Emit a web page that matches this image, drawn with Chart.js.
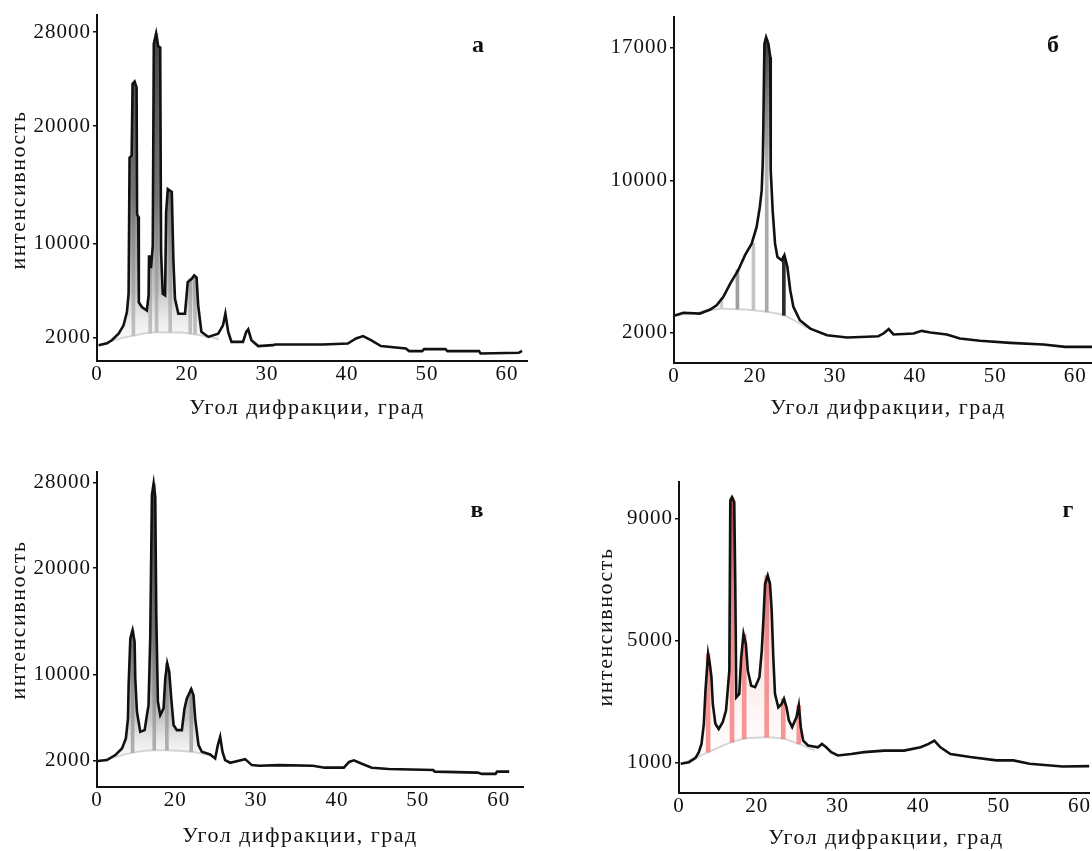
<!DOCTYPE html>
<html lang="ru">
<head>
<meta charset="utf-8">
<title>Дифрактограммы</title>
<script src="https://cdn.jsdelivr.net/npm/chart.js@4.4.1/dist/chart.umd.min.js"></script>
<style>
  html, body { margin: 0; padding: 0; background: #fff; }
  #wrap { position: relative; width: 1092px; height: 851px; overflow: hidden; }
  canvas { position: absolute; }
</style>
</head>
<body>
<div id="wrap">
  <canvas id="panelA" width="546" height="430" style="left:0;top:0"></canvas>
  <canvas id="panelB" width="546" height="430" style="left:546px;top:0"></canvas>
  <canvas id="panelC" width="546" height="421" style="left:0;top:430px"></canvas>
  <canvas id="panelD" width="546" height="421" style="left:546px;top:430px"></canvas>
</div>
<script>
// x tick labels are the same on all four panels
const xTickLabels = ['0', '20', '30', '40', '50', '60'];

// panel а
const aAngle = [8.96, 10.0, 10.6, 11.45, 12.07, 12.49, 12.7, 12.82, 13.08, 13.2, 13.45, 13.7, 13.76, 13.9, 13.98, 14.36, 14.98, 15.2, 15.25, 15.39, 15.5, 15.72, 15.85, 16.14, 16.4, 16.65, 16.76, 16.97, 17.26, 17.39, 17.6, 18.1, 18.3, 18.5, 18.92, 19.75, 20.09, 20.58, 20.9, 21.2, 21.4, 21.8, 22.66, 23.9, 24.5, 24.8, 25.15, 25.56, 27.0, 27.4, 27.65, 28.05, 28.9, 30.75, 31.0, 36.98, 40.1, 41.13, 42.0, 43.0, 44.24, 47.35, 47.77, 49.4, 49.64, 52.3, 52.55, 56.5, 56.7, 61.47, 61.88];
const aCounts = [1350, 1500, 1770, 2330, 3040, 4170, 5730, 17300, 17500, 23600, 23800, 23300, 12500, 12300, 5000, 4600, 4300, 5580, 8900, 8900, 7900, 9800, 27000, 27900, 26800, 26700, 9270, 5730, 5590, 12660, 14640, 14400, 8560, 5300, 4030, 4030, 6720, 7000, 7290, 7100, 4740, 2480, 2050, 2330, 3040, 4030, 2480, 1630, 1630, 2480, 2700, 1770, 1270, 1350, 1410, 1410, 1490, 1920, 2120, 1780, 1270, 1070, 840, 840, 1010, 1010, 840, 840, 640, 700, 870];
const aHaloAngle = [8.96, 11, 13, 16, 19, 22, 24];
const aHaloCounts = [1350, 1800, 2120, 2450, 2420, 2150, 1850];
const aPeakAngle = [13.3, 15.4, 16.2, 17.9, 20.4, 21.0];
const aPeakLow = [2150, 2380, 2450, 2460, 2330, 2270];
const aPeakHigh = [23700, 8900, 27900, 14500, 7000, 7200];
const aXTicks = [8.75, 20, 30, 40, 50, 60];
const aYTicks = [2000, 10000, 20000, 28000];

// panel б
const bAngle = [10.0, 11.04, 13.1, 14.4, 15.2, 16.04, 16.9, 17.9, 18.75, 19.58, 20.2, 20.6, 20.83, 20.96, 21.04, 21.17, 21.38, 21.67, 21.9, 21.96, 22.2, 22.5, 22.8, 23.33, 23.67, 24.04, 24.4, 24.79, 25.6, 26.9, 29.0, 31.5, 34.0, 35.4, 36.04, 36.7, 37.3, 39.8, 40.83, 41.9, 43.96, 45.6, 48.1, 51.9, 56.04, 58.75, 62.1];
const bCounts = [2900, 3040, 3000, 3210, 3440, 3880, 4580, 5280, 6070, 6680, 7560, 8610, 9480, 10880, 12980, 17190, 17540, 17190, 16500, 10530, 8430, 6680, 5980, 5800, 6070, 5450, 4230, 3350, 2650, 2210, 1860, 1740, 1780, 1810, 1950, 2180, 1900, 1950, 2090, 2000, 1900, 1690, 1570, 1460, 1370, 1250, 1250];
const bHaloAngle = [10.0, 13.0, 15.8, 19.8, 21.5, 23.6, 25.2, 26.5];
const bHaloCounts = [2900, 3050, 3260, 3180, 3090, 2910, 2560, 2250];
const bPeakAngle = [15.8, 17.8, 19.8, 21.46, 23.6];
const bPeakLow = [3260, 3240, 3180, 3090, 2910];
const bPeakHigh = [3800, 5300, 6700, 17400, 6000];
const bXTicks = [9.875, 20, 30, 40, 50, 60];
const bYTicks = [2000, 10000, 17000];

// panel в
const cAngle = [10.45, 11.56, 12.59, 13.42, 13.9, 14.16, 14.24, 14.45, 14.73, 14.98, 15.06, 15.27, 15.68, 16.22, 16.5, 16.7, 16.91, 17.12, 17.33, 17.53, 17.66, 17.86, 18.15, 18.56, 18.77, 19.01, 19.26, 19.51, 19.8, 20.2, 20.82, 21.15, 21.44, 21.98, 22.26, 22.47, 22.88, 23.29, 24.32, 24.94, 25.27, 25.56, 25.84, 26.17, 26.79, 28.23, 28.64, 29.47, 30.4, 32.8, 37.0, 38.5, 40.85, 41.5, 42.1, 43.0, 44.3, 46.4, 51.9, 52.1, 57.4, 57.9, 59.6, 59.8, 61.3];
const cCounts = [1930, 2020, 2490, 3110, 4050, 5920, 9040, 13410, 14190, 13100, 9660, 6540, 4670, 4830, 6230, 7170, 13410, 26830, 27920, 26670, 15600, 7480, 6230, 6860, 9660, 11070, 10290, 7790, 5300, 4830, 4830, 6860, 7790, 8670, 8100, 5920, 3420, 2800, 2550, 2170, 3420, 4200, 2800, 2020, 1770, 2020, 2110, 1550, 1490, 1550, 1490, 1310, 1310, 1850, 2000, 1700, 1310, 1180, 1090, 940, 850, 730, 730, 940, 940];
const cHaloAngle = [10.45, 12.0, 13.5, 14.73, 17.4, 19.0, 22.0, 23.3, 24.3];
const cHaloCounts = [1930, 2200, 2500, 2720, 2950, 2950, 2800, 2620, 2450];
const cPeakAngle = [14.73, 17.41, 18.97, 21.98];
const cPeakLow = [2720, 2950, 2950, 2800];
const cPeakHigh = [14190, 27900, 11070, 8670];
const cXTicks = [10.33, 20, 30, 40, 50, 60];
const cYTicks = [2000, 10000, 20000, 28000];

// panel г
const dAngle = [10.56, 11.58, 12.4, 12.81, 13.14, 13.43, 13.63, 13.96, 14.17, 14.37, 14.54, 14.86, 15.27, 15.77, 16.18, 16.42, 16.59, 16.71, 16.92, 17.2, 17.33, 17.45, 17.82, 18.06, 18.35, 18.64, 18.88, 19.3, 19.79, 20.32, 20.61, 20.81, 21.02, 21.35, 21.63, 21.84, 22.04, 22.25, 22.66, 23.07, 23.36, 23.68, 23.97, 24.38, 24.92, 25.2, 25.45, 25.74, 26.35, 27.58, 28.07, 28.6, 29.22, 30.04, 31.7, 33.3, 35.8, 38.25, 40.3, 41.3, 42.0, 42.76, 44.0, 46.45, 49.7, 51.8, 53.8, 57.9, 61.2];
const dCounts = [960, 1010, 1150, 1340, 1610, 2270, 3360, 4560, 4240, 3800, 2920, 2270, 2100, 2320, 2710, 3470, 4020, 9590, 9700, 9540, 6750, 3140, 3250, 4450, 5220, 4890, 4020, 3520, 3470, 3800, 4670, 5660, 6860, 7130, 6860, 5980, 4450, 3250, 2810, 2920, 3090, 2810, 2380, 2160, 2490, 2870, 2160, 1720, 1560, 1500, 1610, 1500, 1340, 1230, 1280, 1340, 1390, 1390, 1500, 1610, 1720, 1500, 1280, 1180, 1070, 1070, 960, 870, 880];
const dHaloAngle = [10.56, 12.0, 13.96, 16.92, 18.43, 21.22, 23.27, 25.2, 27.2];
const dHaloCounts = [960, 1100, 1340, 1670, 1780, 1830, 1780, 1610, 1390];
const dPeakAngle = [13.96, 16.92, 18.43, 21.22, 23.27, 25.2];
const dPeakLow = [1340, 1670, 1780, 1830, 1780, 1610];
const dPeakHigh = [4560, 9700, 5200, 7130, 3090, 2870];
const dXTicks = [10.35, 20, 30, 40, 50, 60];
const dYTicks = [1000, 5000, 9000];

const serif = '"Liberation Serif", "Times New Roman", serif';
const titleFont = '22px ' + serif;
const letterFont = 'bold 24px ' + serif;
const xTitle = 'Угол дифракции, град';
const yTitle = 'интенсивность';

function toPoints(xs, ys) {
  return xs.map((x, i) => ({ x: x, y: ys[i] }));
}

// gradient for the area between the pattern and the amorphous halo
function shade(stops) {
  return function (ctx) {
    const chart = ctx.chart;
    const y = chart.scales.y;
    if (!chart.chartArea || !y) return 'rgba(0,0,0,0)';
    const p0 = y.getPixelForValue(stops[0][0]);
    const p1 = y.getPixelForValue(stops[stops.length - 1][0]);
    const g = chart.ctx.createLinearGradient(0, p0, 0, p1);
    stops.forEach(s => g.addColorStop((y.getPixelForValue(s[0]) - p0) / (p1 - p0), s[1]));
    return g;
  };
}

// titles and panel letters
function textPlugin(items) {
  return {
    id: 'panelText',
    afterDraw(chart) {
      const ctx = chart.ctx;
      items.forEach(t => {
        ctx.save();
        ctx.font = t.font;
        ctx.letterSpacing = t.spacing || '0px';
        ctx.fillStyle = '#111';
        ctx.textAlign = 'center';
        ctx.textBaseline = 'middle';
        ctx.translate(t.x, t.y);
        if (t.rotate) ctx.rotate(t.rotate);
        ctx.fillText(t.text, 0, 0);
        ctx.restore();
      });
    }
  };
}

const spacingPlugin = {
  id: 'spacing',
  beforeUpdate(chart) { chart.ctx.letterSpacing = '1px'; },
  beforeDraw(chart) { chart.ctx.letterSpacing = '1px'; }
};

function makePanel(id, p) {
  const tickFont = { family: serif, size: 21 };
  new Chart(document.getElementById(id), {
    type: 'line',
    data: {
      datasets: [
        {
          data: toPoints(p.angle, p.counts),
          borderColor: '#111',
          borderWidth: 2.6,
          pointRadius: 0,
          tension: 0,
          fill: { target: 1 },
          backgroundColor: shade(p.shade),
          order: 0
        },
        {
          data: toPoints(p.haloAngle, p.haloCounts),
          borderColor: '#d6d6d6',
          borderWidth: 2,
          pointRadius: 0,
          cubicInterpolationMode: 'monotone',
          fill: false,
          order: 2
        },
        {
          type: 'bar',
          data: p.peakAngle.map((x, i) => ({ x: x, y: [p.peakLow[i], p.peakHigh[i]] })),
          backgroundColor: p.peakColors,
          borderWidth: 0,
          barThickness: p.barWidth,
          grouped: false,
          order: 1
        }
      ]
    },
    options: {
      responsive: false,
      animation: false,
      events: [],
      layout: { padding: { left: 0, top: p.padTop, right: p.padRight, bottom: 0 } },
      plugins: { legend: { display: false }, tooltip: { enabled: false } },
      scales: {
        x: {
          type: 'linear',
          min: p.xMin,
          max: p.xMax,
          offset: false,
          afterBuildTicks: s => { s.ticks = p.xTicks.map(v => ({ value: v })); },
          afterFit: s => { s.height = p.xAxisHeight; },
          grid: { display: false, drawTicks: false, offset: false },
          border: { display: true, color: '#111', width: 2 },
          ticks: {
            callback: (v, i) => xTickLabels[i],
            font: tickFont, color: '#111', padding: 1,
            maxRotation: 0, autoSkip: false
          }
        },
        y: {
          type: 'linear',
          min: p.yMin,
          max: p.yMax,
          beginAtZero: false,
          afterBuildTicks: s => { s.ticks = p.yTicks.map(v => ({ value: v })); },
          afterFit: s => { s.width = p.yAxisWidth; },
          grid: { drawOnChartArea: false, drawTicks: true, tickLength: 4, color: '#111', lineWidth: 1.5 },
          border: { display: true, color: '#111', width: 2 },
          ticks: {
            callback: v => String(v),
            font: tickFont, color: '#111', padding: 2, autoSkip: false
          }
        }
      }
    },
    plugins: [spacingPlugin, textPlugin(p.texts)]
  });
}

makePanel('panelA', {
  angle: aAngle, counts: aCounts, haloAngle: aHaloAngle, haloCounts: aHaloCounts,
  peakAngle: aPeakAngle, peakLow: aPeakLow, peakHigh: aPeakHigh,
  peakColors: '#bdbdbd', barWidth: 3,
  shade: [[2200, 'rgba(200,200,200,0.15)'], [6000, 'rgba(150,150,150,0.55)'], [14000, 'rgba(95,95,95,0.8)'], [27000, 'rgba(60,60,60,0.9)']],
  xTicks: aXTicks, yTicks: aYTicks,
  xMin: 8.75, xMax: 62.5, yMin: 0, yMax: 29500,
  padTop: 12, padRight: 19, yAxisWidth: 97, xAxisHeight: 69,
  texts: [
    { text: 'а', x: 478, y: 46, font: letterFont },
    { text: xTitle, x: 307, y: 408, font: titleFont, spacing: '1.5px' },
    { text: yTitle, x: 19, y: 190, rotate: -Math.PI / 2, font: titleFont, spacing: '1.5px' }
  ]
});

makePanel('panelB', {
  angle: bAngle, counts: bCounts, haloAngle: bHaloAngle, haloCounts: bHaloCounts,
  peakAngle: bPeakAngle, peakLow: bPeakLow, peakHigh: bPeakHigh,
  peakColors: ['#cfcfcf', '#9e9e9e', '#c4c4c4', '#a9a9a9', '#2e2e2e'], barWidth: 3,
  shade: [[9000, 'rgba(255,255,255,0)'], [12000, 'rgba(150,150,150,0.55)'], [17000, 'rgba(55,55,55,0.9)']],
  xTicks: bXTicks, yTicks: bYTicks,
  xMin: 9.875, xMax: 62.1, yMin: 400, yMax: 18600,
  padTop: 17, padRight: 0, yAxisWidth: 128, xAxisHeight: 67,
  texts: [
    { text: 'б', x: 507, y: 46, font: letterFont },
    { text: xTitle, x: 342, y: 408, font: titleFont, spacing: '1.5px' }
  ]
});

makePanel('panelC', {
  angle: cAngle, counts: cCounts, haloAngle: cHaloAngle, haloCounts: cHaloCounts,
  peakAngle: cPeakAngle, peakLow: cPeakLow, peakHigh: cPeakHigh,
  peakColors: '#a8a8a8', barWidth: 3,
  shade: [[2600, 'rgba(200,200,200,0.15)'], [6000, 'rgba(150,150,150,0.55)'], [14000, 'rgba(95,95,95,0.8)'], [27000, 'rgba(55,55,55,0.9)']],
  xTicks: cXTicks, yTicks: cYTicks,
  xMin: 10.33, xMax: 63.0, yMin: -500, yMax: 29000,
  padTop: 42, padRight: 23, yAxisWidth: 97, xAxisHeight: 64,
  texts: [
    { text: 'в', x: 477, y: 81, font: letterFont },
    { text: xTitle, x: 300, y: 406, font: titleFont, spacing: '1.5px' },
    { text: yTitle, x: 19, y: 190, rotate: -Math.PI / 2, font: titleFont, spacing: '1.5px' }
  ]
});

makePanel('panelD', {
  angle: dAngle, counts: dCounts, haloAngle: dHaloAngle, haloCounts: dHaloCounts,
  peakAngle: dPeakAngle, peakLow: dPeakLow, peakHigh: dPeakHigh,
  peakColors: 'rgba(244,120,120,0.85)', barWidth: 4,
  shade: [[1800, 'rgba(255,210,210,0.1)'], [5000, 'rgba(230,140,140,0.3)'], [9500, 'rgba(150,50,50,0.8)']],
  xTicks: dXTicks, yTicks: dYTicks,
  xMin: 10.35, xMax: 61.3, yMin: 0, yMax: 10200,
  padTop: 52, padRight: 0, yAxisWidth: 133, xAxisHeight: 58,
  texts: [
    { text: 'г', x: 522, y: 81, font: letterFont },
    { text: xTitle, x: 340, y: 408, font: titleFont, spacing: '1.5px' },
    { text: yTitle, x: 60, y: 197, rotate: -Math.PI / 2, font: titleFont, spacing: '1.5px' }
  ]
});
</script>
</body>
</html>
